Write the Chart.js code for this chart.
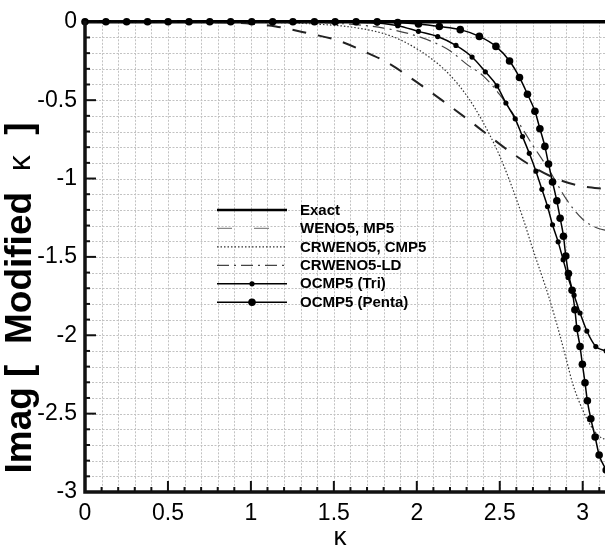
<!DOCTYPE html>
<html>
<head>
<meta charset="utf-8">
<script src="https://cdn.jsdelivr.net/npm/chart.js@4"></script>
<style>
  html, body { margin: 0; padding: 0; background: #fff; overflow: hidden; }
  #wrap { position: relative; width: 610px; height: 548px; }
</style>
</head>
<body>
<div id="wrap"><canvas id="chart"></canvas></div>
<script>
// Imaginary part of the modified wavenumber versus wavenumber kappa

const exactK = [0, 3.1416];
const exactV = [0, 0];

const wenoK = [0, 0.5, 0.8, 1.0, 1.15, 1.34, 1.52, 1.67, 1.83, 2.0, 2.17, 2.30, 2.42, 2.55, 2.70, 2.85, 3.0, 3.1416];
const wenoV = [0, 0, -0.003, -0.012, -0.03, -0.072, -0.118, -0.183, -0.265, -0.385, -0.515, -0.617, -0.715, -0.82, -0.925, -1.005, -1.05, -1.067];

const crwenoK = [0, 1.0, 1.2, 1.4, 1.6, 1.8, 1.93, 2.1, 2.2, 2.3, 2.39, 2.49, 2.57, 2.64, 2.69, 2.8, 2.86, 2.9, 2.94, 3.0, 3.05, 3.1, 3.1416];
const crwenoV = [0, -0.002, -0.006, -0.015, -0.033, -0.075, -0.13, -0.245, -0.34, -0.47, -0.623, -0.833, -1.043, -1.253, -1.42, -1.77, -1.99, -2.15, -2.31, -2.477, -2.58, -2.645, -2.667];

const ldK = [0, 1.2, 1.4, 1.6, 1.8, 1.95, 2.1, 2.2, 2.3, 2.4, 2.5, 2.6, 2.7, 2.8, 2.9, 3.0, 3.1, 3.1416];
const ldV = [0, -0.001, -0.005, -0.015, -0.04, -0.075, -0.13, -0.185, -0.27, -0.345, -0.465, -0.62, -0.79, -0.95, -1.13, -1.26, -1.32, -1.33];

const triK = [0, 0.126, 0.251, 0.377, 0.501, 0.627, 0.752, 0.878, 1.005, 1.131, 1.253, 1.383, 1.508, 1.634, 1.761,
  1.885, 2.010, 2.126, 2.236, 2.333, 2.413, 2.483, 2.537, 2.593, 2.637, 2.678, 2.718, 2.754, 2.788, 2.818,
  2.852, 2.882, 2.912, 2.948, 2.984, 3.025, 3.079, 3.1416];
const triV = [0, 0, 0, 0, 0, 0, 0, 0, 0, 0, 0, 0, 0, -0.003, -0.008,
  -0.025, -0.061, -0.094, -0.151, -0.225, -0.319, -0.409, -0.518, -0.619, -0.732, -0.839, -0.953, -1.069, -1.179, -1.295,
  -1.404, -1.518, -1.631, -1.744, -1.858, -1.973, -2.072, -2.10];

const pentaK = [0, 0.126, 0.251, 0.377, 0.501, 0.627, 0.752, 0.878, 1.005, 1.131, 1.253, 1.383, 1.508, 1.634, 1.761,
  1.885, 2.010, 2.136, 2.262, 2.377, 2.477, 2.559, 2.619, 2.667, 2.712, 2.742, 2.772, 2.794, 2.818, 2.844,
  2.864, 2.884, 2.898, 2.914, 2.936, 2.953, 2.965, 2.984, 2.998, 3.014, 3.028, 3.049, 3.075, 3.099, 3.1416];
const pentaV = [0, 0, 0, 0, 0, 0, 0, 0, 0, 0, 0, 0, 0, 0, 0,
  -0.004, -0.014, -0.030, -0.05, -0.093, -0.157, -0.25, -0.355, -0.462, -0.571, -0.682, -0.795, -0.907, -1.022, -1.142,
  -1.253, -1.368, -1.494, -1.606, -1.713, -1.837, -1.957, -2.072, -2.185, -2.303, -2.418, -2.533, -2.649, -2.764, -2.86];

const xTickValues = [0, 0.5, 1, 1.5, 2, 2.5, 3];
const yTickValues = [0, -0.5, -1, -1.5, -2, -2.5, -3];

const seriesLabels = ['Exact', 'WENO5, MP5', 'CRWENO5, CMP5', 'CRWENO5-LD', 'OCMP5 (Tri)', 'OCMP5 (Penta)'];

const FONT = "'Liberation Sans', Arial, Helvetica, sans-serif";

function pts(ks, vs) { return ks.map((k, i) => ({ x: k, y: vs[i] })); }

// Dotted minor grid, axis lines and inward tick marks
const framePlugin = {
  id: 'frame',
  beforeDatasetsDraw(chart) {
    const { ctx, chartArea: a, scales: { x, y } } = chart;
    ctx.save();
    ctx.strokeStyle = '#c2c2c2';
    ctx.lineWidth = 1;
    ctx.setLineDash([2, 1.5]);
    for (let i = 1; i <= 31; i++) {
      const px = Math.round(x.getPixelForValue(i / 10)) + 0.5;
      ctx.beginPath(); ctx.moveTo(px, a.top); ctx.lineTo(px, a.bottom); ctx.stroke();
    }
    for (let i = 1; i <= 29; i++) {
      const py = Math.round(y.getPixelForValue(-i / 10)) + 0.5;
      ctx.beginPath(); ctx.moveTo(a.left, py); ctx.lineTo(a.right, py); ctx.stroke();
    }
    ctx.restore();
  },
  afterDatasetsDraw(chart) {
    const { ctx, chartArea: a, scales: { x, y } } = chart;
    ctx.save();
    ctx.setLineDash([]);
    ctx.strokeStyle = '#111';
    ctx.lineWidth = 2;
    for (let i = 1; i <= 31; i++) {
      const px = x.getPixelForValue(i / 10);
      const len = (i % 5 === 0) ? 11 : 5;
      ctx.beginPath(); ctx.moveTo(px, a.bottom); ctx.lineTo(px, a.bottom - len); ctx.stroke();
    }
    for (let i = 1; i <= 29; i++) {
      const py = y.getPixelForValue(-i / 10);
      const len = (i % 5 === 0) ? 11 : 5;
      ctx.beginPath(); ctx.moveTo(a.left, py); ctx.lineTo(a.left + len, py); ctx.stroke();
    }
    ctx.lineWidth = 3.5;
    ctx.beginPath();
    ctx.moveTo(a.left, a.top - 1);
    ctx.lineTo(a.left, a.bottom);
    ctx.lineTo(a.right + 5, a.bottom);
    ctx.stroke();
    ctx.restore();
  }
};

// Legend drawn inside the plot, mirroring each dataset's line style
const legendPlugin = {
  id: 'innerLegend',
  afterDraw(chart) {
    const { ctx } = chart;
    const x0 = 217, x1 = 287, xm = 252, tx = 300, y0 = 210, dy = 18.45;
    ctx.save();
    chart.data.datasets.forEach((ds, i) => {
      const yy = y0 + i * dy;
      ctx.strokeStyle = ds.legendColor || ds.borderColor;
      ctx.lineWidth = ds.legendWidth || ds.borderWidth;
      ctx.setLineDash(ds.legendDash || ds.borderDash || []);
      ctx.beginPath(); ctx.moveTo(x0, yy); ctx.lineTo(x1, yy); ctx.stroke();
      ctx.setLineDash([]);
      if (ds.pointRadius > 0) {
        ctx.fillStyle = ds.pointBackgroundColor;
        ctx.beginPath(); ctx.arc(xm, yy, ds.pointRadius, 0, Math.PI * 2); ctx.fill();
      }
      ctx.fillStyle = '#000';
      ctx.font = 'bold 15px ' + FONT;
      ctx.textAlign = 'left';
      ctx.textBaseline = 'middle';
      ctx.fillText(ds.label, tx, yy + 0.5);
    });
    ctx.restore();
  }
};

// Axis titles
const titlePlugin = {
  id: 'axisTitles',
  afterDraw(chart) {
    const { ctx } = chart;
    ctx.save();
    ctx.fillStyle = '#000';
    ctx.textBaseline = 'middle';
    const parts = [
      { t: 'Imag [  Modified  ', f: 'bold 37px ' + FONT },
      { t: '\u03BA', f: '32px ' + FONT },
      { t: '  ]', f: 'bold 37px ' + FONT }
    ];
    let total = 0;
    parts.forEach(p => { ctx.font = p.f; p.w = ctx.measureText(p.t).width; total += p.w; });
    ctx.translate(21, 298);
    ctx.rotate(-Math.PI / 2);
    let cx = -total / 2;
    ctx.textAlign = 'left';
    parts.forEach(p => { ctx.font = p.f; ctx.fillText(p.t, cx, 0); cx += p.w; });
    ctx.restore();

    ctx.save();
    ctx.fillStyle = '#000';
    ctx.font = '26px ' + FONT;
    ctx.textAlign = 'center';
    ctx.textBaseline = 'middle';
    ctx.fillText('\u03BA', 340, 538);
    ctx.restore();
  }
};

const ds = [
  { label: seriesLabels[0], data: pts(exactK, exactV), borderColor: '#000', borderWidth: 3.5, legendWidth: 2.5,
    pointRadius: 0, order: 10 },
  { label: seriesLabels[1], data: pts(wenoK, wenoV), borderColor: '#222', borderWidth: 2,
    legendWidth: 1.3, legendColor: '#888', legendDash: [15, 22],
    borderDash: [14, 12], pointRadius: 0, order: 5 },
  { label: seriesLabels[2], data: pts(crwenoK, crwenoV), borderColor: '#333', borderWidth: 1.2,
    borderDash: [1.5, 2], pointRadius: 0, order: 4 },
  { label: seriesLabels[3], data: pts(ldK, ldV), borderColor: '#444', borderWidth: 1.2,
    borderDash: [12, 5, 2, 5], pointRadius: 0, order: 3 },
  { label: seriesLabels[4], data: pts(triK, triV), borderColor: '#000', borderWidth: 1.5,
    pointRadius: 2.6, pointBackgroundColor: '#000', pointBorderWidth: 0, order: 2 },
  { label: seriesLabels[5], data: pts(pentaK, pentaV), borderColor: '#000', borderWidth: 1.5,
    pointRadius: 3.8, pointBackgroundColor: '#000', pointBorderWidth: 0, order: 1 }
];
ds.forEach(d => { d.clip = false; d.cubicInterpolationMode = 'monotone'; d.fill = false; d.pointHoverRadius = d.pointRadius; });

new Chart(document.getElementById('chart'), {
  type: 'line',
  data: { datasets: ds },
  options: {
    responsive: true,
    maintainAspectRatio: false,
    animation: false,
    devicePixelRatio: 1,
    layout: { padding: { top: 16, right: 2.5, left: 0, bottom: 0 } },
    plugins: { legend: { display: false }, tooltip: { enabled: false } },
    scales: {
      x: {
        type: 'linear', min: 0, max: Math.PI,
        afterFit(s) { s.height = 56; },
        afterBuildTicks(s) { s.ticks = xTickValues.map(v => ({ value: v })); },
        grid: { display: false, drawTicks: false },
        border: { display: false },
        ticks: {
          padding: 8, color: '#000', font: { family: FONT, size: 23 },
          maxRotation: 0, autoSkip: false,
          callback: v => String(Number(v.toFixed(1)))
        }
      },
      y: {
        type: 'linear', min: -3, max: 0,
        afterFit(s) { s.width = 85; },
        afterBuildTicks(s) { s.ticks = yTickValues.map(v => ({ value: v })); },
        grid: { display: false, drawTicks: false },
        border: { display: false },
        ticks: {
          padding: 8, color: '#000', font: { family: FONT, size: 23 },
          autoSkip: false,
          callback: v => (v === 0 ? '0' : String(Number(v.toFixed(1))))
        }
      }
    }
  },
  plugins: [framePlugin, legendPlugin, titlePlugin]
});
</script>
</body>
</html>
